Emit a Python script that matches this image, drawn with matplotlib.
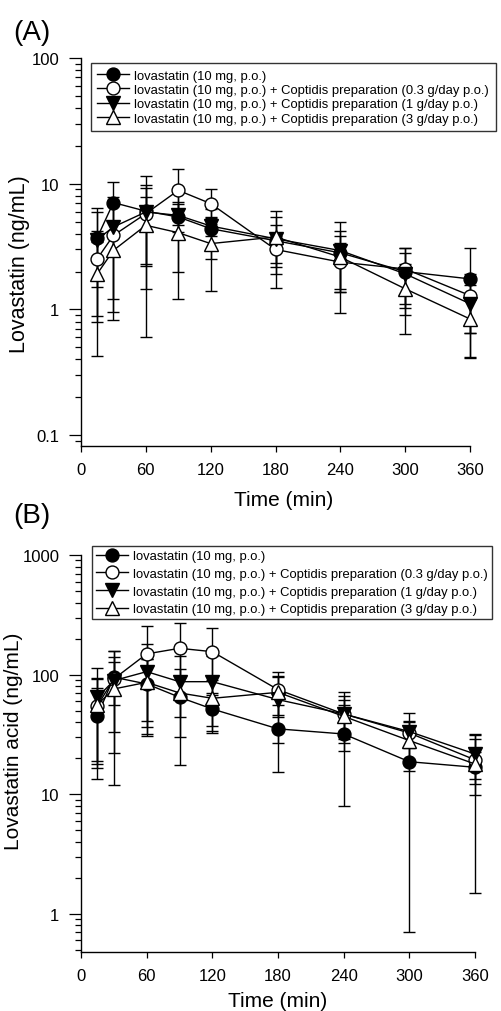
import matplotlib
matplotlib.use('Agg')
import matplotlib.pyplot as plt
from matplotlib.lines import Line2D
from matplotlib.ticker import LogLocator, FixedLocator, FixedFormatter, NullFormatter

plt.rcParams['font.family'] = ['Liberation Sans', 'DejaVu Sans']

# ---------------- data ----------------
time_min = [15, 30, 60, 90, 120, 180, 240, 300, 360]
series_labels = [
    "lovastatin (10 mg, p.o.)",
    "lovastatin (10 mg, p.o.) + Coptidis preparation (0.3 g/day p.o.)",
    "lovastatin (10 mg, p.o.) + Coptidis preparation (1 g/day p.o.)",
    "lovastatin (10 mg, p.o.) + Coptidis preparation (3 g/day p.o.)",
]

# Panel A: lovastatin (ng/mL), mean and SD
A_lova = [3.72, 7.08, 6.05, 5.44, 4.39, 3.52, 2.82, 2.00, 1.75]
A_lova_sd = [2.2, 3.2, 5.45, 3.45, 1.89, 1.2, 1.36, 1.1, 1.33]
A_cop03 = [2.53, 3.88, 5.78, 8.86, 6.95, 3.00, 2.38, 2.10, 1.29]
A_cop03_sd = [1.65, 2.93, 3.47, 4.14, 2.19, 0.82, 1.0, 1.0, 0.64]
A_cop1 = [3.60, 4.53, 5.96, 5.60, 4.61, 3.65, 2.94, 1.92, 1.11]
A_cop1_sd = [2.8, 3.33, 3.74, 1.5, 0.8, 1.75, 2.0, 0.9, 0.46]
A_cop3 = [1.92, 2.95, 4.67, 4.08, 3.34, 3.77, 2.61, 1.46, 0.84]
A_cop3_sd = [1.49, 2.12, 3.22, 2.87, 1.95, 2.3, 1.23, 0.82, 0.43]

# Panel B: lovastatin acid (ng/mL), mean and SD
B_lova = [45.4, 95.1, 83.6, 64.7, 51.6, 35.2, 31.9, 18.7, 16.8]
B_lova_sd = [32, 62, 52, 47, 18, 20, 24, 18, 15.3]
B_cop03 = [55.0, 92.1, 149, 166, 155.5, 74.9, 46.9, 32.5, 19.4]
B_cop03_sd = [37, 36, 108, 102, 88, 31, 24, 8, 9.5]
B_cop1 = [64.7, 89.2, 105.9, 87.3, 87.3, 61.8, 46.9, 33.4, 21.7]
B_cop1_sd = [48, 67, 75, 57, 55, 35, 20, 14, 9.6]
B_cop3 = [56.1, 75.9, 86.2, 70.3, 63.4, 71.1, 44.8, 28.1, 17.9]
B_cop3_sd = [37, 64, 50, 26, 26, 25, 16, 12.6, 4.5]

x_ticks = [0, 60, 120, 180, 240, 300, 360]

# ---------------- styles ----------------
styles = [
    dict(marker='o', mfc='black', ms=9.3),
    dict(marker='o', mfc='white', ms=9.3),
    dict(marker='v', mfc='black', ms=9.8),
    dict(marker='^', mfc='white', ms=9.8),
]

W, H = 501, 1012
fig = plt.figure(figsize=(W / 100, H / 100), dpi=100)


def ax_rect(l, t, r, b):
    return [l / W, 1 - b / H, (r - l) / W, (b - t) / H]


def fx(px):
    return px / W


def fy(py):
    return 1 - py / H


def draw_panel(ax, means, sds, ylim, yticks, yticklabels):
    for m, s, st in zip(means, sds, styles):
        ax.errorbar(time_min, m, yerr=s, color='black', lw=1.0, elinewidth=1.0,
                    capsize=4, capthick=1.0, marker=st['marker'], ms=st['ms'],
                    mfc=st['mfc'], mec='black', mew=1.0, clip_on=False)
    ax.set_yscale('log')
    ax.set_xlim(0, 360)
    ax.set_ylim(*ylim)
    ax.set_xticks(x_ticks)
    ax.set_xticklabels([str(v) for v in x_ticks])
    ax.yaxis.set_major_locator(FixedLocator(yticks))
    ax.yaxis.set_major_formatter(FixedFormatter(yticklabels))
    ax.yaxis.set_minor_locator(LogLocator(base=10, subs=range(2, 10), numticks=20))
    ax.yaxis.set_minor_formatter(NullFormatter())
    for sp in ('top', 'right'):
        ax.spines[sp].set_visible(False)
    for sp in ('left', 'bottom'):
        ax.spines[sp].set_linewidth(1.0)
    ax.tick_params(axis='y', which='major', direction='out', length=8.5, width=0.9,
                   labelsize=12, pad=7)
    ax.tick_params(axis='y', which='minor', direction='out', length=4.3, width=0.9)
    ax.tick_params(axis='x', which='major', direction='out', length=4.3, width=0.9,
                   labelsize=12, pad=7)


axA = fig.add_axes(ax_rect(81, 59, 470, 447))
draw_panel(axA, [A_lova, A_cop03, A_cop1, A_cop3],
           [A_lova_sd, A_cop03_sd, A_cop1_sd, A_cop3_sd],
           (0.082, 100), [0.1, 1, 10, 100], ['0.1', '1', '10', '100'])

axB = fig.add_axes(ax_rect(81, 556, 475, 953))
draw_panel(axB, [B_lova, B_cop03, B_cop1, B_cop3],
           [B_lova_sd, B_cop03_sd, B_cop1_sd, B_cop3_sd],
           (0.48, 1000), [1, 10, 100, 1000], ['1', '10', '100', '1000'])

# axis titles
fig.text(fx(20), fy(264), 'Lovastatin (ng/mL)', rotation=90, fontsize=15.5,
         ha='center', va='center')
fig.text(fx(13.5), fy(741), 'Lovastatin acid (ng/mL)', rotation=90, fontsize=15,
         ha='center', va='center')
fig.text(fx(284), fy(501), 'Time (min)', fontsize=15, ha='center', va='center')
fig.text(fx(277.5), fy(1001.5), 'Time (min)', fontsize=15, ha='center', va='center')

handles = [Line2D([], [], color='black', lw=1.0, marker=st['marker'], ms=st['ms'],
                  mfc=st['mfc'], mec='black', mew=1.0) for st in styles]

legA = fig.legend(handles, series_labels, loc='upper left',
                  bbox_to_anchor=(fx(90.7), fy(64)), bbox_transform=fig.transFigure,
                  fontsize=9.4, frameon=True, fancybox=False, edgecolor='#333333',
                  framealpha=1, borderpad=0.5, labelspacing=0.17, handlelength=2.45,
                  handletextpad=0.4, borderaxespad=0)
legA.get_frame().set_linewidth(1.0)

legB = fig.legend(handles, series_labels, loc='upper left',
                  bbox_to_anchor=(fx(92), fy(547)), bbox_transform=fig.transFigure,
                  fontsize=9.4, frameon=True, fancybox=False, edgecolor='#333333',
                  framealpha=1, borderpad=0.32, labelspacing=0.42, handlelength=2.45,
                  handletextpad=0.4, borderaxespad=0)
legB.get_frame().set_linewidth(1.0)

fig.text(fx(13), fy(40), '(A)', fontsize=20, ha='left', va='baseline')
fig.text(fx(13), fy(523), '(B)', fontsize=20, ha='left', va='baseline')

fig.savefig('out.png', dpi=100)
